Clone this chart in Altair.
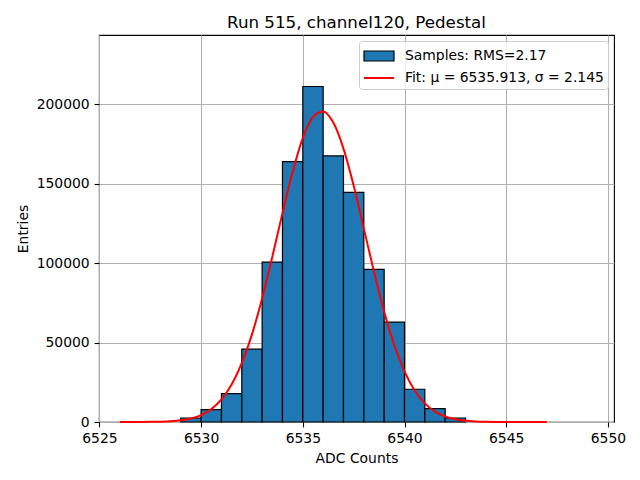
import altair as alt
import pandas as pd

# ---- data ----
bin_left = [6529, 6530, 6531, 6532, 6533, 6534, 6535, 6536, 6537, 6538, 6539, 6540, 6541, 6542]
bin_counts = [2520, 7810, 17900, 45800, 100600, 163800, 211100, 167400, 144500, 96000, 62800, 20600, 8440, 2520]

fit_x = [6526, 6526.5, 6527, 6527.5, 6528, 6528.5, 6529, 6529.5, 6530, 6530.5,
         6531, 6531.5, 6532, 6532.5, 6533, 6533.5, 6534, 6534.5, 6535, 6535.5,
         6536, 6536.5, 6537, 6537.5, 6538, 6538.5, 6539, 6539.5, 6540, 6540.5,
         6541, 6541.5, 6542, 6542.5, 6543, 6543.5, 6544, 6544.5, 6545, 6545.5,
         6546, 6546.5, 6547]
fit_y = [5, 13, 35, 89, 217, 500, 1090, 2240, 4380, 8100,
         14200, 23570, 37050, 55160, 77770, 103880, 131420, 157440, 178660, 192000,
         195440, 188420, 172030, 148770, 121840, 94510, 69440, 48310, 31840, 19870,
         11750, 6580, 3490, 1750, 834, 376, 160, 65, 25, 9,
         3, 1, 0]

samples_label = "Samples: RMS=2.17"
fit_label = "Fit: μ = 6535.913, σ = 2.145"
title_text = "Run 515, channel120, Pedestal"
x_ticks = [6525, 6530, 6535, 6540, 6545, 6550]
y_ticks = [0, 50000, 100000, 150000, 200000]

bars = pd.DataFrame({"x": bin_left, "x2": [b + 1 for b in bin_left], "count": bin_counts})
fit = pd.DataFrame({"x": fit_x, "y": fit_y})
legend_df = pd.DataFrame({"series": [samples_label, fit_label], "x": [6530, 6530], "y": [0, 0]})

FONT = "DejaVu Sans"
BLUE = "#1f77b4"
RED = "#ff0000"
xscale = alt.Scale(domain=[6524.98, 6550.3], nice=False, zero=False, padding=0)
yscale = alt.Scale(domain=[0, 243500], nice=False, padding=0)
dom = [samples_label, fit_label]

leg = alt.Legend(
    title=None,
    orient="top-right",
    offset=6,
    padding=4,
    rowPadding=3,
    labelOffset=20,
    labelFont=FONT,
    labelFontSize=13.9,
    labelColor="black",
    labelLimit=400,
    fillColor="rgba(255,255,255,0.8)",
    strokeColor="#cccccc",
    cornerRadius=3,
    symbolSize=400,
    symbolOpacity=1,
    zindex=3,
)

hist = alt.Chart(bars).mark_bar(
    fill=BLUE, stroke="black", strokeWidth=1.2, opacity=1, orient="vertical"
).encode(
    x=alt.X("x:Q", scale=xscale,
            axis=alt.Axis(title="ADC Counts", values=x_ticks, format="d")),
    x2="x2:Q",
    y=alt.Y("count:Q", scale=yscale,
            axis=alt.Axis(title="Entries", values=y_ticks, format="d")),
    y2=alt.datum(0),
)

line = alt.Chart(fit).mark_line(color=RED, strokeWidth=2, interpolate="monotone").encode(
    x=alt.X("x:Q", scale=xscale),
    y=alt.Y("y:Q", scale=yscale),
)

# invisible layer that only carries the legend
keys = alt.Chart(legend_df).transform_filter("false").mark_point(filled=True, opacity=1).encode(
    x=alt.X("x:Q", scale=xscale),
    y=alt.Y("y:Q", scale=yscale),
    fill=alt.Fill("series:N", scale=alt.Scale(domain=dom, range=[BLUE, "transparent"]), legend=leg),
    stroke=alt.Stroke("series:N", scale=alt.Scale(domain=dom, range=["black", RED]), legend=leg),
    shape=alt.Shape("series:N", scale=alt.Scale(domain=dom, range=["M-1,-0.5H2V0.5H-1Z", "M-1,0H2"]), legend=leg),
    strokeWidth=alt.StrokeWidth("series:N", scale=alt.Scale(domain=dom, range=[1.2, 2]), legend=leg),
)

chart = (
    alt.layer(hist, line, keys)
    .properties(
        width=515,
        height=387,
        title=alt.TitleParams(
            title_text, font=FONT, fontSize=16.7, fontWeight="normal",
            color="black", anchor="middle", frame="group", offset=8,
            baseline="alphabetic", dy=18,
        ),
        autosize=alt.AutoSizeParams(type="none"),
        padding={"left": 91, "top": 27, "right": 18, "bottom": 50},
    )
    .configure_view(stroke="black", strokeWidth=1.1)
    .configure_axis(
        zindex=1,
        grid=True,
        gridColor="#b0b0b0",
        gridWidth=1.1,
        domain=False,
        ticks=True,
        tickColor="black",
        tickWidth=1.1,
        tickSize=4.9,
        labelPadding=4.9,
        labelFont=FONT,
        labelFontSize=13.9,
        labelColor="black",
        titleFont=FONT,
        titleFontSize=13.9,
        titleFontWeight="normal",
        titleColor="black",
        titlePadding=5.6,
        labelFlush=False,
        labelOverlap=False,
    )
)

chart.save("out.html", embed_options={"renderer": "svg", "actions": False})
